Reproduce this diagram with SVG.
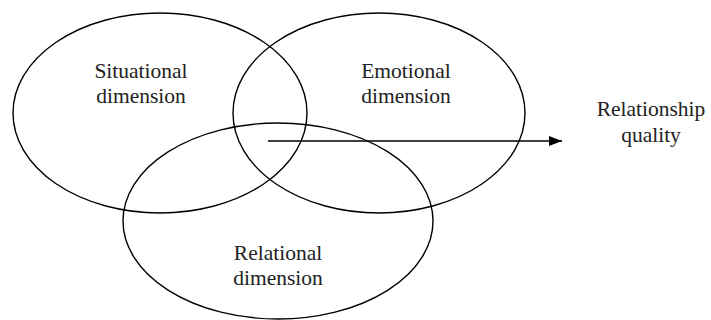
<svg xmlns="http://www.w3.org/2000/svg" width="711" height="320" viewBox="0 0 711 320">
<style>
.e{fill:none;stroke:#000;stroke-width:1.4}
.t{font-family:'Liberation Serif','Times New Roman',serif;font-size:21.5px;fill:#222;text-anchor:middle}
.c{stroke:#000;stroke-width:1.6;fill:none}
</style>
<defs>
<marker id="ah" markerWidth="13" markerHeight="10" refX="13" refY="5" orient="auto" markerUnits="userSpaceOnUse">
<path d="M0,0 L13,5 L0,10 Z" fill="#000"/>
</marker>
</defs>
<rect width="711" height="320" fill="#fff"/>
<g id="situational">
<ellipse class="e" cx="160" cy="113" rx="147" ry="100"/>
<text class="t" x="141" y="78">Situational</text>
<text class="t" x="141" y="103">dimension</text>
</g>
<g id="emotional">
<ellipse class="e" cx="379" cy="113" rx="146" ry="100"/>
<text class="t" x="406" y="78">Emotional</text>
<text class="t" x="406" y="103">dimension</text>
</g>
<g id="relational">
<ellipse class="e" cx="278" cy="221" rx="155" ry="98"/>
<text class="t" x="278" y="260">Relational</text>
<text class="t" x="278" y="285">dimension</text>
</g>
<g id="quality">
<text class="t" x="651" y="116">Relationship</text>
<text class="t" x="651" y="142">quality</text>
</g>
<g id="connectors">
<line class="c" x1="268" y1="141" x2="562" y2="141" marker-end="url(#ah)"/>
</g>
</svg>
